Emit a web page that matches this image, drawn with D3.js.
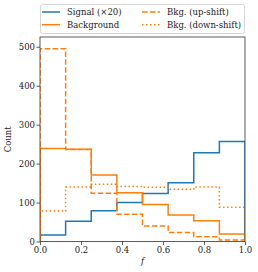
<!DOCTYPE html>
<html>
<head>
<meta charset="utf-8">
<script src="https://cdn.jsdelivr.net/npm/d3@7"></script>
<style>
  body { margin: 0; background: #fff; }
  text { font-family: "DejaVu Serif", serif; fill: #222; }
</style>
</head>
<body>
<div id="chart"></div>
<script>
let width = 258;
let height = 272;

// bin edges and counts
const edges = [0, 0.125, 0.25, 0.375, 0.5, 0.625, 0.75, 0.875, 1.0];
const signal = [17, 52, 79, 100, 123, 151, 228, 257];
const background = [239, 237, 171, 125, 95, 68, 53, 19];
const bkgUp = [495, 236, 124, 70, 40, 23, 12, 4];
const bkgDown = [78, 140, 147, 141, 139, 134, 140, 88];

const xTicks = [0, 0.2, 0.4, 0.6, 0.8, 1.0];
const yTicks = [0, 100, 200, 300, 400, 500];

const margin = {left: 40, right: 13, top: 37, bottom: 30.5};

let svg = d3.select("#chart").append("svg")
  .attr("width", width)
  .attr("height", height)

var x = d3.scaleLinear()
  .domain([0, 1])
  .range([margin.left, width - margin.right]);
var y = d3.scaleLinear()
  .domain([0, 525])
  .range([height - margin.bottom, margin.top]);

svg.append("defs").append("clipPath").attr("id", "clip")
  .append("rect")
  .attr("x", x(0)).attr("y", y(525))
  .attr("width", x(1) - x(0)).attr("height", y(0) - y(525));

// step outline like matplotlib histtype='step'
function stepPoints(vals) {
  let pts = [[edges[0], 0]];
  vals.forEach(function (v, i) {
    pts.push([edges[i], v]);
    pts.push([edges[i + 1], v]);
  });
  pts.push([edges[edges.length - 1], 0]);
  return pts;
}
var line = d3.line().x(d => x(d[0])).y(d => y(d[1]));

const series = [
  {name: "Signal (\u00d720)", vals: signal, color: "#1f77b4", dash: null},
  {name: "Background", vals: background, color: "#ff7f0e", dash: null},
  {name: "Bkg. (up-shift)", vals: bkgUp, color: "#ff7f0e", dash: "5.5,2.4"},
  {name: "Bkg. (down-shift)", vals: bkgDown, color: "#ff7f0e", dash: "1.5,2.5"}
];

let g = svg.append("g").attr("clip-path", "url(#clip)");
series.forEach(function (s) {
  g.append("path")
    .attr("d", line(stepPoints(s.vals)))
    .attr("fill", "none")
    .attr("stroke", s.color)
    .attr("stroke-width", 1.5)
    .attr("stroke-dasharray", s.dash);
});

// axes
let xAxis = svg.append("g")
  .attr("transform", "translate(0," + y(0) + ")")
  .call(d3.axisBottom(x).tickValues(xTicks).tickFormat(d3.format(".1f")).tickSize(3.5).tickPadding(1.5));
let yAxis = svg.append("g")
  .attr("transform", "translate(" + x(0) + ",0)")
  .call(d3.axisLeft(y).tickValues(yTicks).tickSize(3.5).tickPadding(1.5));
[xAxis, yAxis].forEach(function (a) {
  a.select(".domain").remove();
  a.selectAll("line").attr("stroke", "#333").attr("stroke-width", 0.8);
  a.selectAll("text").style("font-family", "'DejaVu Serif', serif").style("font-size", "8.5px").attr("fill", "#222");
});

// frame
svg.append("rect")
  .attr("x", x(0)).attr("y", y(525))
  .attr("width", x(1) - x(0)).attr("height", y(0) - y(525))
  .attr("fill", "none").attr("stroke", "#333").attr("stroke-width", 0.8);

// axis labels
svg.append("text")
  .attr("x", (x(0) + x(1)) / 2).attr("y", 264)
  .attr("text-anchor", "middle")
  .style("font-size", "8.5px").style("font-style", "italic")
  .text("f");
svg.append("text")
  .attr("transform", "translate(10.5," + (y(0) + y(525)) / 2 + ") rotate(-90)")
  .attr("text-anchor", "middle")
  .style("font-size", "8.5px")
  .text("Count");

// legend
let lg = svg.append("g");
lg.append("rect")
  .attr("x", 40.5).attr("y", 4.5).attr("width", 204).attr("height", 29)
  .attr("rx", 2).attr("fill", "#fff").attr("fill-opacity", 0.8)
  .attr("stroke", "#ccc").attr("stroke-width", 0.8);
const legPos = [[42, 12], [42, 24.7], [142, 12], [142, 24.7]];
series.forEach(function (s, i) {
  let p = legPos[i];
  lg.append("line")
    .attr("x1", p[0]).attr("x2", p[0] + 18).attr("y1", p[1]).attr("y2", p[1])
    .attr("stroke", s.color).attr("stroke-width", 1.5)
    .attr("stroke-dasharray", s.dash);
  lg.append("text")
    .attr("x", p[0] + 25).attr("y", p[1] + 3)
    .style("font-size", "8.5px")
    .text(s.name);
});
</script>
</body>
</html>
